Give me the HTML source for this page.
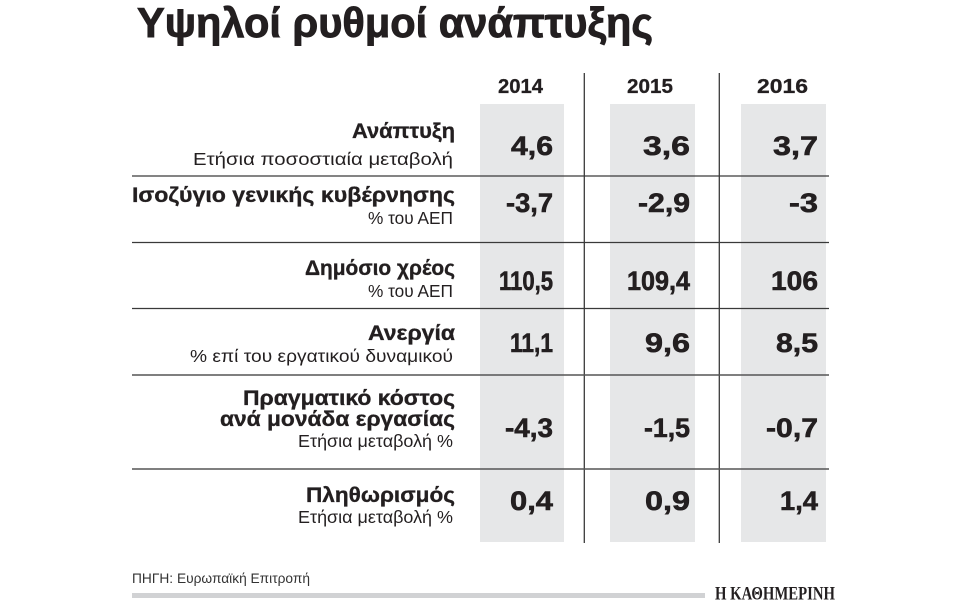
<!DOCTYPE html>
<html>
<head>
<meta charset="utf-8">
<style>
  html, body { margin: 0; padding: 0; background: #ffffff; }
  svg { display: block; }
  text { font-family: "Liberation Sans", "DejaVu Sans", sans-serif; fill: #231f20; }
  .t { font-weight: bold; font-size: 42px; stroke: #231f20; stroke-width: 0.9px; }
  .yr { font-weight: bold; font-size: 20.5px; stroke: #231f20; stroke-width: 0.3px; }
  .lb { font-weight: bold; font-size: 21.5px; stroke: #231f20; stroke-width: 0.35px; }
  .sb { font-size: 17.5px; }
  .v { font-weight: bold; font-size: 27px; stroke: #231f20; stroke-width: 0.6px; }
  .src { font-size: 14px; fill: #333; }
  .logo { font-family: "Liberation Serif", "DejaVu Serif", serif; font-weight: bold; font-size: 19px; fill: #231f20; }
</style>
</head>
<body>
<svg width="960" height="600" viewBox="0 0 960 600" xmlns="http://www.w3.org/2000/svg">
  <rect x="0" y="0" width="960" height="600" fill="#ffffff"/>

  <!-- Title -->
  <text class="t" x="137" y="37" textLength="516" lengthAdjust="spacingAndGlyphs">Υψηλοί ρυθμοί ανάπτυξης</text>

  <!-- Gray column backgrounds -->
  <rect x="480" y="104" width="84" height="438" fill="#e6e7e8"/>
  <rect x="610" y="104" width="85" height="438" fill="#e6e7e8"/>
  <rect x="741" y="104" width="85" height="438" fill="#e6e7e8"/>

  <!-- Vertical separators -->
  <line x1="584.3" y1="73" x2="584.3" y2="543" stroke="#3a3a3a" stroke-width="1.3"/>
  <line x1="719.3" y1="73" x2="719.3" y2="543" stroke="#3a3a3a" stroke-width="1.3"/>

  <!-- Horizontal separators -->
  <line x1="132" y1="176" x2="829" y2="176" stroke="#3a3a3a" stroke-width="1.3"/>
  <line x1="132" y1="242.5" x2="829" y2="242.5" stroke="#3a3a3a" stroke-width="1.3"/>
  <line x1="132" y1="308.5" x2="829" y2="308.5" stroke="#3a3a3a" stroke-width="1.3"/>
  <line x1="132" y1="375" x2="829" y2="375" stroke="#555" stroke-width="1.6"/>
  <line x1="132" y1="469" x2="829" y2="469" stroke="#555" stroke-width="1.6"/>

  <!-- Year headers -->
  <text class="yr" x="520.5" y="93" text-anchor="middle" textLength="45" lengthAdjust="spacingAndGlyphs">2014</text>
  <text class="yr" x="650" y="93" text-anchor="middle" textLength="46" lengthAdjust="spacingAndGlyphs">2015</text>
  <text class="yr" x="782.5" y="93" text-anchor="middle" textLength="51" lengthAdjust="spacingAndGlyphs">2016</text>

  <!-- Row labels -->
  <text class="lb" x="455" y="138" text-anchor="end" textLength="103" lengthAdjust="spacingAndGlyphs">Ανάπτυξη</text>
  <text class="sb" x="453" y="165" text-anchor="end" textLength="260" lengthAdjust="spacingAndGlyphs">Ετήσια ποσοστιαία μεταβολή</text>

  <text class="lb" x="455" y="202" text-anchor="end" textLength="323" lengthAdjust="spacingAndGlyphs">Ισοζύγιο γενικής κυβέρνησης</text>
  <text class="sb" x="453" y="224" text-anchor="end" textLength="85" lengthAdjust="spacingAndGlyphs">% του ΑΕΠ</text>

  <text class="lb" x="455" y="275" text-anchor="end" textLength="150" lengthAdjust="spacingAndGlyphs">Δημόσιο χρέος</text>
  <text class="sb" x="453" y="297" text-anchor="end" textLength="85" lengthAdjust="spacingAndGlyphs">% του ΑΕΠ</text>

  <text class="lb" x="455" y="340" text-anchor="end" textLength="87" lengthAdjust="spacingAndGlyphs">Ανεργία</text>
  <text class="sb" x="453" y="362" text-anchor="end" textLength="263" lengthAdjust="spacingAndGlyphs">% επί του εργατικού δυναμικού</text>

  <text class="lb" x="455" y="405" text-anchor="end" textLength="212" lengthAdjust="spacingAndGlyphs">Πραγματικό κόστος</text>
  <text class="lb" x="455" y="426" text-anchor="end" textLength="235" lengthAdjust="spacingAndGlyphs">ανά μονάδα εργασίας</text>
  <text class="sb" x="453" y="447" text-anchor="end" textLength="155" lengthAdjust="spacingAndGlyphs">Ετήσια μεταβολή %</text>

  <text class="lb" x="455" y="502" text-anchor="end" textLength="149" lengthAdjust="spacingAndGlyphs">Πληθωρισμός</text>
  <text class="sb" x="453" y="523" text-anchor="end" textLength="155" lengthAdjust="spacingAndGlyphs">Ετήσια μεταβολή %</text>

  <!-- Values: column 2014 -->
  <text class="v" x="553" y="155" text-anchor="end" textLength="42" lengthAdjust="spacingAndGlyphs">4,6</text>
  <text class="v" x="553" y="212" text-anchor="end" textLength="47" lengthAdjust="spacingAndGlyphs">-3,7</text>
  <text class="v" x="553" y="290" text-anchor="end" textLength="54" lengthAdjust="spacingAndGlyphs">110,5</text>
  <text class="v" x="553" y="352" text-anchor="end" textLength="43" lengthAdjust="spacingAndGlyphs">11,1</text>
  <text class="v" x="553" y="437" text-anchor="end" textLength="48" lengthAdjust="spacingAndGlyphs">-4,3</text>
  <text class="v" x="553" y="510" text-anchor="end" textLength="43" lengthAdjust="spacingAndGlyphs">0,4</text>

  <!-- Values: column 2015 -->
  <text class="v" x="690" y="155" text-anchor="end" textLength="47" lengthAdjust="spacingAndGlyphs">3,6</text>
  <text class="v" x="690" y="212" text-anchor="end" textLength="52" lengthAdjust="spacingAndGlyphs">-2,9</text>
  <text class="v" x="690" y="290" text-anchor="end" textLength="63" lengthAdjust="spacingAndGlyphs">109,4</text>
  <text class="v" x="690" y="352" text-anchor="end" textLength="45" lengthAdjust="spacingAndGlyphs">9,6</text>
  <text class="v" x="690" y="437" text-anchor="end" textLength="46" lengthAdjust="spacingAndGlyphs">-1,5</text>
  <text class="v" x="690" y="510" text-anchor="end" textLength="45" lengthAdjust="spacingAndGlyphs">0,9</text>

  <!-- Values: column 2016 -->
  <text class="v" x="818" y="155" text-anchor="end" textLength="45" lengthAdjust="spacingAndGlyphs">3,7</text>
  <text class="v" x="818" y="212" text-anchor="end" textLength="29" lengthAdjust="spacingAndGlyphs">-3</text>
  <text class="v" x="818" y="290" text-anchor="end" textLength="47" lengthAdjust="spacingAndGlyphs">106</text>
  <text class="v" x="818" y="352" text-anchor="end" textLength="42" lengthAdjust="spacingAndGlyphs">8,5</text>
  <text class="v" x="818" y="437" text-anchor="end" textLength="52" lengthAdjust="spacingAndGlyphs">-0,7</text>
  <text class="v" x="818" y="510" text-anchor="end" textLength="38" lengthAdjust="spacingAndGlyphs">1,4</text>

  <!-- Source -->
  <text class="src" x="132" y="583" textLength="178" lengthAdjust="spacingAndGlyphs">ΠΗΓΗ: Ευρωπαϊκή Επιτροπή</text>

  <!-- Bottom bar and logo -->
  <rect x="132" y="593" width="573" height="5" fill="#d1d2d4"/>
  <text class="logo" x="715" y="599.5" textLength="120" lengthAdjust="spacingAndGlyphs">Η ΚΑΘΗΜΕΡΙΝΗ</text>
</svg>
</body>
</html>
